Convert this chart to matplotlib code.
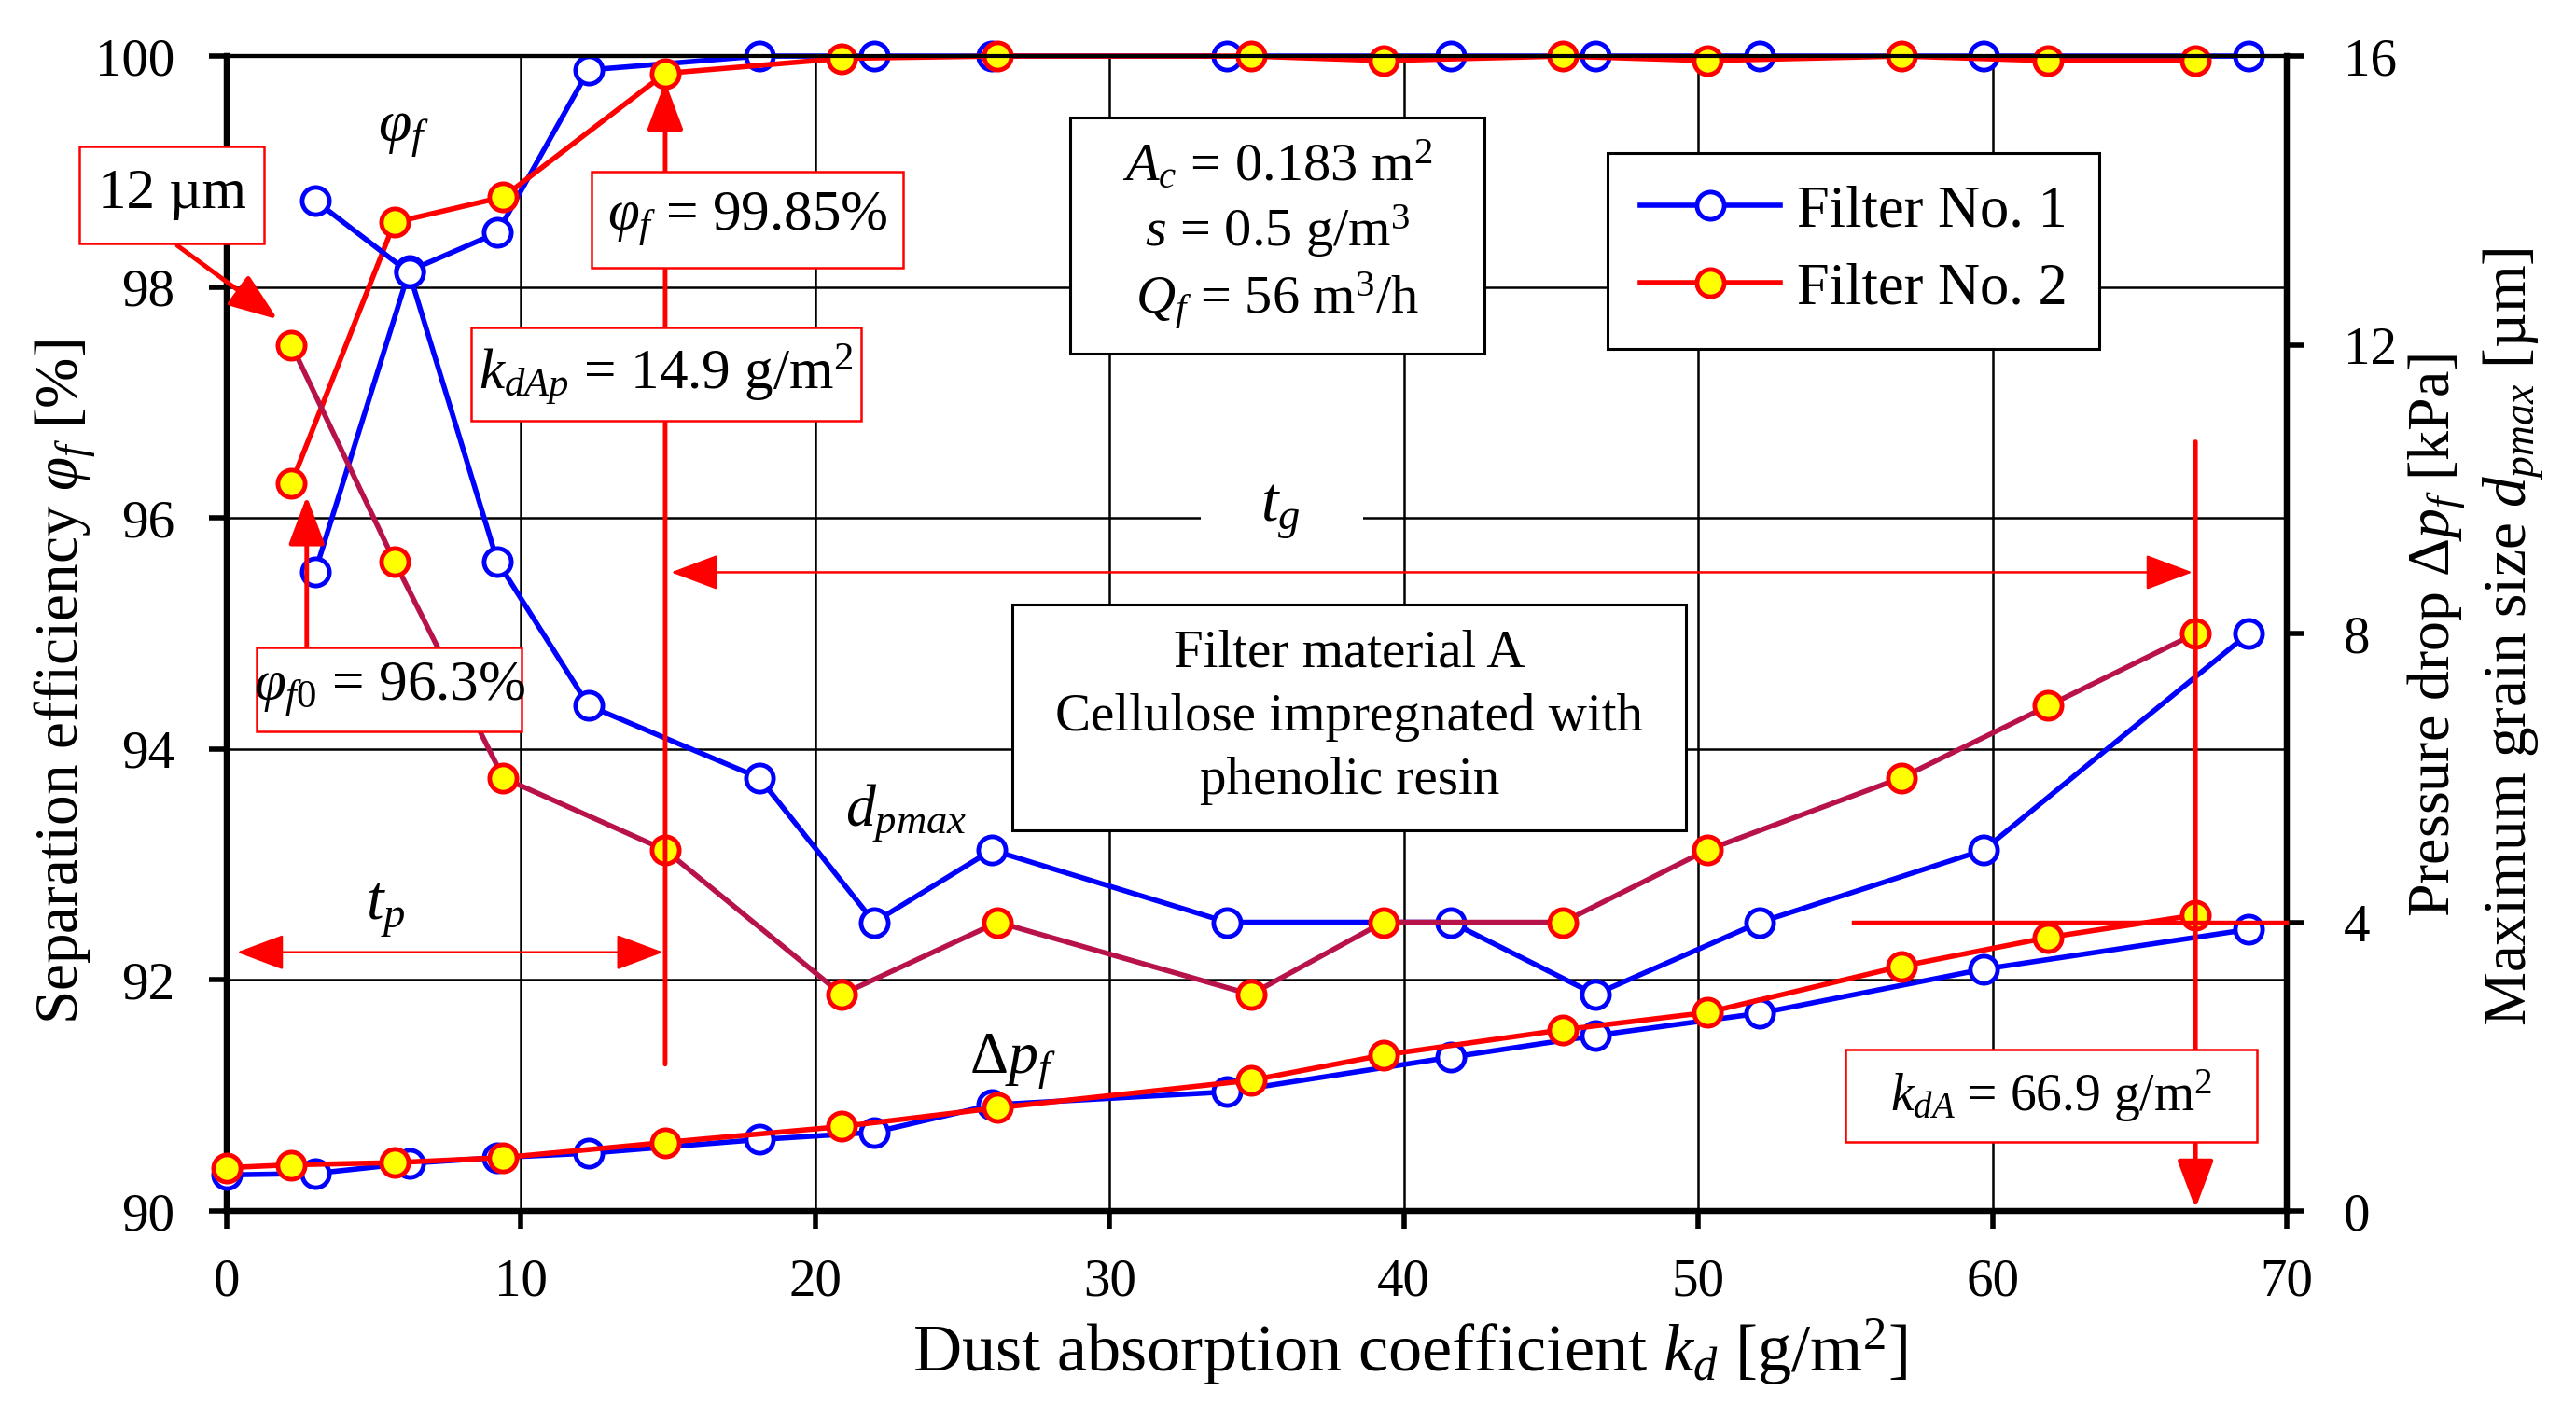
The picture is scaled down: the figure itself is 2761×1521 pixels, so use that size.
import matplotlib
matplotlib.use("Agg")
import matplotlib.pyplot as plt
from matplotlib.patches import Rectangle
from matplotlib.lines import Line2D

plt.rcParams["font.family"] = ["Liberation Serif", "DejaVu Serif"]
plt.rcParams["mathtext.fontset"] = "custom"
plt.rcParams["mathtext.rm"] = "Liberation Serif"
plt.rcParams["mathtext.it"] = "Liberation Serif:italic"
plt.rcParams["mathtext.bf"] = "Liberation Serif:bold"

# Filter No. 1 (blue)
kd_f1 = [0, 3.0, 6.2, 9.2, 12.3, 18.1, 22.0, 26.0, 34.0, 41.6, 46.5, 52.1, 59.7, 68.7]
eff_f1 = [95.53, 98.14, 98.47, 99.88, 100, 100, 100, 100, 100, 100, 100, 100, 100]  # from kd_f1[1:]
dpmax_f1 = [14, 13, 9, 7, 6, 4, 5, 4, 4, 3, 4, 5, 8]  # from kd_f1[1:]
dp_f1 = [0.50, 0.52, 0.66, 0.74, 0.80, 0.99, 1.09, 1.47, 1.65, 2.13, 2.43, 2.74, 3.35, 3.90]

# Filter No. 2 (red)
kd_f2 = [0, 2.2, 5.7, 9.4, 14.9, 20.9, 26.2, 34.8, 39.3, 45.4, 50.3, 56.9, 61.9, 66.9]
eff_f2 = [96.3, 98.56, 98.78, 99.85, 99.98, 100, 100, 99.96, 100, 99.96, 100, 99.96, 99.96]  # from kd_f2[1:]
dpmax_f2 = [12, 9, 6, 5, 3, 4, 3, 4, 4, 5, 6, 7, 8]  # from kd_f2[1:]
dp_f2 = [0.60, 0.64, 0.67, 0.74, 0.95, 1.17, 1.43, 1.81, 2.16, 2.51, 2.75, 3.39, 3.79, 4.10]

kd_dAp = 14.9
kd_dA = 66.9
dp_limit = 4.0

x_ticks = [0, 10, 20, 30, 40, 50, 60, 70]
left_ticks = [90, 92, 94, 96, 98, 100]
right_ticks = [0, 4, 8, 12, 16]

BLUE = "#0000FF"
RED = "#FF0000"
CRIMSON = "#B8124A"
YELLOW = "#FFFF00"

fig = plt.figure(figsize=(27.61, 15.21), dpi=100)
ax = fig.add_axes([0.088, 0.1466, 0.7997, 0.8139])
ax2 = ax.twinx()

ax.set_xlim(0, 70)
ax.set_ylim(90, 100)
ax2.set_ylim(0, 16)
ax.set_xticks(x_ticks)
ax.set_yticks(left_ticks)
ax2.set_yticks(right_ticks)
ax.grid(True, color="black", lw=1.8)
ax.set_axisbelow(True)

for a in (ax, ax2):
    for side in ("left", "right", "bottom"):
        a.spines[side].set_linewidth(4.5)
    a.spines["top"].set_linewidth(3)
ax.tick_params(axis="both", labelsize=41, length=14, width=4, direction="out")
ax.tick_params(axis="y", pad=26)
ax.tick_params(axis="x", pad=22)
ax2.tick_params(axis="y", labelsize=41, length=14, width=4, direction="out", pad=30)

blue_kw = dict(color=BLUE, lw=4, marker="o", ms=21, mfc="white", mec=BLUE, mew=3.5)
red_kw = dict(color=RED, lw=4, marker="o", ms=21, mfc=YELLOW, mec=RED, mew=3.5)

# separation efficiency (left axis)
ax.plot(kd_f1[1:], eff_f1, clip_on=False, zorder=5, **blue_kw)
ax.plot(kd_f2[1:], eff_f2, clip_on=False, zorder=6, **red_kw)

# max grain size and pressure drop (right axis)
ax2.plot(kd_f1[1:], dpmax_f1, clip_on=False, zorder=3, **blue_kw)
ax2.plot(kd_f2[1:], dpmax_f2, clip_on=False, zorder=4, **dict(red_kw, color=CRIMSON))
ax2.plot(kd_f1, dp_f1, clip_on=False, zorder=3, **blue_kw)
ax2.plot(kd_f2, dp_f2, clip_on=False, zorder=4, **red_kw)

T = ax.transData


def box(x0, x1, y0, y1, text, ec, fs=40, lw=2.2, ls=1.3):
    ax2.add_patch(Rectangle((x0, y0), x1 - x0, y1 - y0, transform=T, fc="white",
                            ec=ec, lw=lw, zorder=20, clip_on=False))
    ax2.text((x0 + x1) / 2, (y0 + y1) / 2, text, transform=T, ha="center", va="center",
             fontsize=fs, zorder=21, linespacing=ls, clip_on=False)


def arrow(xy_from, xy_to, lw, style="-|>", hl=0.8, hw=0.3, ms=40, color=RED):
    ax2.annotate("", xy=xy_to, xytext=xy_from, xycoords=T, textcoords=T,
                 arrowprops=dict(arrowstyle=f"{style},head_length={hl},head_width={hw}",
                                 lw=lw, color=color, shrinkA=0, shrinkB=0,
                                 mutation_scale=ms), zorder=15, annotation_clip=False)


# guide lines and arrows
arrow((kd_dAp, 91.27), (kd_dAp, 99.78), 3.5)
arrow((kd_dA, 96.66), (kd_dA, 90.02), 3.5)
arrow((15.1, 95.53), (66.8, 95.53), 1.8, style="<|-|>")
arrow((0.35, 92.24), (14.83, 92.24), 1.8, style="<|-|>")
arrow((2.72, 94.88), (2.72, 96.19), 3.5)
arrow((-1.68, 98.36), (1.73, 97.72), 3.5)
ax2.plot([55.3, 70], [dp_limit, dp_limit], color=RED, lw=3.2, zorder=15, clip_on=False)

# boxes
box(-5.0, 1.27, 98.38, 99.22, "12 µm", RED, fs=44, lw=1.8)
box(12.4, 23.0, 98.17, 99.0, r"$\varphi_f$ = 99.85%", RED, fs=44, lw=1.8)
box(8.3, 21.55, 96.84, 97.65, r"$k_{dAp}$ = 14.9 g/m$^2$", RED, fs=44, lw=1.8)
box(1.02, 10.03, 94.15, 94.88, r"$\varphi_{f0}$ = 96.3%", RED, fs=44, lw=1.8)
box(55.0, 69.0, 90.6, 91.4, r"$k_{dA}$ = 66.9 g/m$^2$", RED, fs=40, lw=1.8)
box(28.67, 42.75, 97.42, 99.47,
    "$A_c$ = 0.183 m$^2$\n$s$ = 0.5 g/m$^3$\n$Q_f$ = 56 m$^3$/h", "black", fs=42, ls=1.25)
box(26.7, 49.6, 93.3, 95.25,
    "Filter material A\nCellulose impregnated with\nphenolic resin", "black", fs=41, ls=1.4)

# t_g label with gap in the grid line
ax2.add_patch(Rectangle((33.1, 95.9), 5.5, 0.2, transform=T, fc="white", ec="none", zorder=12))
ax2.text(35.8, 96.05, "$t_g$", transform=T, ha="center", va="center", fontsize=48, zorder=13)
ax2.text(5.4, 92.6, "$t_p$", transform=T, ha="center", va="center", fontsize=48, zorder=13)
ax2.text(6.0, 99.35, r"$\varphi_f$", transform=T, ha="center", va="center", fontsize=46, zorder=13)
ax2.text(23.1, 93.45, "$d_{pmax}$", transform=T, ha="center", va="center", fontsize=46, zorder=13)
ax2.text(26.7, 91.3, r"$\Delta p_f$", transform=T, ha="center", va="center", fontsize=46, zorder=13)

# legend
handles = [Line2D([], [], **blue_kw), Line2D([], [], **red_kw)]
leg = ax2.legend(handles, ["Filter No. 1", "Filter No. 2"], loc="center",
                 bbox_to_anchor=(0.7898, 0.8315), fontsize=45, frameon=True,
                 fancybox=False, edgecolor="black", framealpha=1,
                 handlelength=2.4, labelspacing=0.4, borderpad=0.55, handletextpad=0.3)
leg.get_frame().set_linewidth(2.2)
leg.set_zorder(30)

# axis labels
fig.text(0.5473, 0.0473, "Dust absorption coefficient $k_d$ [g/m$^2$]", ha="center",
         va="center", fontsize=52)
fig.text(0.0254, 1 - 731 / 1521, r"Separation efficiency $\varphi_f$ [%]", ha="center",
         va="center", rotation=90, fontsize=47)
fig.text(2611 / 2761, 1 - 681 / 1521, r"Pressure drop $\Delta p_f$ [kPa]", ha="center",
         va="center", rotation=90, fontsize=46)
fig.text(2694 / 2761, 1 - 683 / 1521, "Maximum grain size $d_{pmax}$ [µm]", ha="center",
         va="center", rotation=90, fontsize=47)

fig.savefig("out.png", dpi=100)
